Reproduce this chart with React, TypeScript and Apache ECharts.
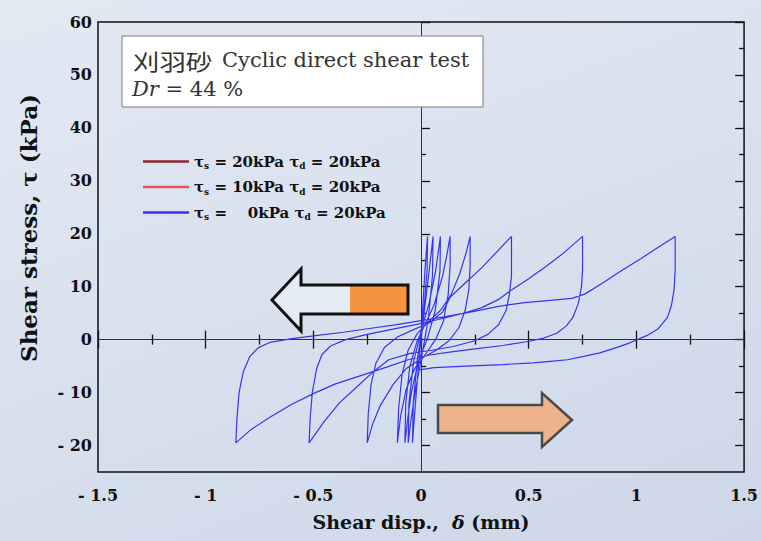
import React, { useEffect, useRef } from "react";
import * as echarts from "echarts";

// Axis ranges and tick values
const xRange = [-1.5, 1.5];
const xInterval = 0.5;
const yRange = [-25, 60];
const yMajorTicks = [-20, -10, 0, 10, 20, 30, 40, 50, 60];
const yMinorTicks = [-15, -5, 5, 15, 25, 35, 45, 55];

// Legend entries (series names and their labels)
const seriesNames = ["s20", "s10", "s0"];
const seriesColors = ["#8e2433", "#e8505b", "#3535f0"];
const legendLabels: Record<string, string> = {
  s20: "{t|τ}{s|s}{t| = 20kPa τ}{s|d}{t| = 20kPa}",
  s10: "{t|τ}{s|s}{t| = 10kPa τ}{s|d}{t| = 20kPa}",
  s0: "{t|τ}{s|s}{t| =    0kPa τ}{s|d}{t| = 20kPa}",
};

// τs = 20 kPa and τs = 10 kPa records (not plotted in this panel)
const loopS20: [number, number][] = [];
const loopS10: [number, number][] = [];

// τs = 0 kPa, τd = 20 kPa: shear displacement (mm) vs shear stress (kPa)
const loopS0: [number, number][] = [
  // first cycles, close to the origin
  [0, 0], [0.008, 6], [0.018, 13], [0.03, 19.5],
  [0.028, 13], [0.012, 5], [-0.008, -3], [-0.024, -11], [-0.04, -19.5],
  [-0.036, -12], [-0.018, -4], [0.008, 3], [0.032, 11], [0.056, 19.5],
  [0.053, 12], [0.034, 4], [0.004, -3], [-0.028, -10], [-0.046, -15], [-0.06, -19.5],
  [-0.056, -12], [-0.034, -4], [0.0, 1.5], [0.038, 7], [0.068, 13], [0.09, 19.5],
  [0.088, 13], [0.066, 5.5], [0.028, 0], [-0.012, -4], [-0.045, -10], [-0.062, -15], [-0.075, -19.5],
  [-0.071, -12], [-0.052, -5], [-0.02, -0.5], [0.02, 3], [0.06, 6.5], [0.1, 12], [0.12, 16], [0.135, 19.5],
  // unloading to -0.11 mm
  [0.135, 14], [0.126, 8.5], [0.104, 3.5], [0.07, 0.2], [0.02, -2.8], [-0.03, -5.5], [-0.07, -9.5], [-0.095, -14.5], [-0.11, -19.5],
  // reloading to 0.23 mm
  [-0.104, -13], [-0.088, -6.5], [-0.06, -2], [-0.02, 1], [0.03, 3.2], [0.09, 5.5], [0.14, 8.5], [0.18, 12.5], [0.21, 16.5], [0.228, 19.5],
  // unloading to -0.25 mm
  [0.228, 14], [0.222, 9.5], [0.205, 5.5], [0.175, 2.2], [0.13, -0.2], [0.07, -2], [0.0, -3.6], [-0.07, -5.5], [-0.13, -8.5], [-0.19, -12.5], [-0.225, -16], [-0.25, -19.5],
  // reloading to 0.42 mm
  [-0.245, -14], [-0.232, -8.5], [-0.21, -4.5], [-0.17, -1.5], [-0.11, 0.5], [-0.04, 1.8], [0.04, 3.2], [0.1, 5.2], [0.135, 8], [0.2, 10.5], [0.28, 13.5], [0.35, 16.5], [0.42, 19.5],
  // unloading to -0.52 mm
  [0.42, 12], [0.41, 8.5], [0.395, 5.5], [0.36, 2.8], [0.31, 1], [0.25, -0.2], [0.15, -1.3], [0.05, -2], [-0.05, -2.6], [-0.15, -3.8], [-0.22, -6], [-0.3, -9], [-0.38, -12], [-0.45, -15.5], [-0.52, -19.5],
  // reloading to 0.75 mm
  [-0.515, -15], [-0.505, -10], [-0.485, -5.5], [-0.46, -2.8], [-0.42, -1.2], [-0.35, 0], [-0.25, 1], [-0.13, 2], [-0.02, 2.9], [0.08, 3.8], [0.18, 4.8], [0.28, 6], [0.36, 7.6], [0.42, 9.4], [0.5, 11.5], [0.58, 13.8], [0.66, 16.3], [0.75, 19.5],
  // unloading to -0.86 mm
  [0.75, 13.2], [0.745, 10], [0.73, 6.8], [0.705, 4.2], [0.675, 2.6], [0.63, 1.2], [0.57, 0.3], [0.49, -0.4], [0.38, -1.1], [0.26, -1.7], [0.14, -2.3], [0.04, -2.9], [-0.06, -3.8], [-0.16, -5.2], [-0.28, -6.8], [-0.4, -8.4], [-0.5, -10.2], [-0.6, -12.2], [-0.7, -14.6], [-0.79, -17], [-0.86, -19.5],
  // reloading to 1.18 mm
  [-0.855, -15], [-0.845, -10], [-0.825, -6], [-0.795, -3.2], [-0.755, -1.5], [-0.7, -0.5], [-0.6, 0.2], [-0.48, 0.8], [-0.36, 1.4], [-0.24, 2.1], [-0.12, 2.8], [0, 3.6], [0.12, 4.4], [0.24, 5.3], [0.36, 6.3], [0.48, 7], [0.6, 7.4], [0.7, 7.8], [0.76, 8.6], [0.84, 10.6], [0.93, 13], [1.02, 15.3], [1.1, 17.4], [1.18, 19.5],
  // final unloading
  [1.18, 13.2], [1.175, 9.5], [1.163, 6.5], [1.144, 4.2], [1.1, 2], [1.05, 0.8], [0.97, -0.6], [0.9, -1.6], [0.83, -2.5], [0.75, -3.2], [0.68, -3.8], [0.6, -4.1], [0.52, -4.4], [0.38, -4.7], [0.21, -5], [0.06, -5.3], [-0.02, -5.8],
];

const SERIF = '"DejaVu Serif", "Liberation Serif", serif';
const INK = "#111";

const signed = (v: number) => (v < 0 ? "- " + Math.abs(v) : String(v));

const tickStyle = { color: INK, width: 1.3 };

const xAxisBase = (position: "bottom" | "top", labels: boolean) => ({
  type: "value",
  min: xRange[0],
  max: xRange[1],
  interval: xInterval,
  position,
  axisLine: { show: false },
  splitLine: { show: false },
  axisTick: { show: true, inside: true, length: 9, lineStyle: tickStyle },
  minorTick: { show: true, splitNumber: 2, length: 5, lineStyle: tickStyle },
  axisLabel: labels
    ? {
        show: true,
        formatter: signed,
        fontFamily: SERIF,
        fontWeight: "bold",
        fontSize: 16,
        color: INK,
        margin: 15,
      }
    : { show: false },
});

const yAxisBase = (position: "left" | "right", ticks: number[], len: number, labels: boolean) => ({
  type: "value",
  min: yRange[0],
  max: yRange[1],
  position,
  axisLine: { show: false },
  splitLine: { show: false },
  axisTick: { show: true, inside: true, length: len, lineStyle: tickStyle, customValues: ticks },
  axisLabel: labels
    ? {
        show: true,
        customValues: ticks,
        formatter: signed,
        fontFamily: SERIF,
        fontWeight: "bold",
        fontSize: 16,
        color: INK,
        margin: 6,
      }
    : { show: false },
});

export default function App() {
  const ref = useRef<HTMLDivElement>(null);

  useEffect(() => {
    if (!ref.current) return;
    const chart = echarts.init(ref.current, null, { renderer: "svg" });
    const loops = [loopS20, loopS10, loopS0];

    chart.setOption({
      animation: false,
      grid: {
        left: 98,
        right: 16,
        top: 22,
        bottom: 69,
        show: true,
        borderColor: INK,
        borderWidth: 1.5,
        backgroundColor: "transparent",
      },
      xAxis: [xAxisBase("bottom", true), xAxisBase("top", false)],
      yAxis: [
        yAxisBase("left", yMajorTicks, 9, true),
        yAxisBase("left", yMinorTicks, 5, false),
        yAxisBase("right", yMajorTicks, 9, false),
        yAxisBase("right", yMinorTicks, 5, false),
      ],
      legend: {
        orient: "vertical",
        left: 138,
        top: 149,
        icon: "rect",
        itemWidth: 46,
        itemHeight: 2.5,
        itemGap: 9,
        data: seriesNames,
        formatter: (name: string) => legendLabels[name],
        textStyle: {
          rich: {
            t: { fontFamily: SERIF, fontWeight: "bold", fontSize: 15, color: INK, lineHeight: 18 },
            s: {
              fontFamily: SERIF,
              fontWeight: "bold",
              fontSize: 9,
              color: INK,
              lineHeight: 8,
              verticalAlign: "bottom",
            },
          },
        },
      },
      series: seriesNames.map((name, i) => ({
        name,
        type: "line",
        data: loops[i],
        showSymbol: false,
        color: seriesColors[i],
        lineStyle: { color: seriesColors[i], width: 1.2 },
        z: 3,
        ...(i === 2
          ? {
              markLine: {
                silent: true,
                symbol: "none",
                label: { show: false },
                lineStyle: { color: "#333", width: 1, type: "solid" },
                data: [{ xAxis: 0 }, { yAxis: 0 }],
                z: 2,
              },
            }
          : {}),
      })),
      graphic: [
        // title box
        {
          type: "rect",
          z: 100,
          shape: { x: 122, y: 36, width: 361, height: 71 },
          style: { fill: "#ffffff", stroke: "#7a7a7a", lineWidth: 1 },
        },
        {
          type: "text",
          z: 101,
          x: 133,
          y: 60,
          scaleX: 1.2,
          style: {
            text: "刈羽砂",
            font: '22px "Noto Sans CJK JP"',
            fill: "#333",
            verticalAlign: "middle",
            textVerticalAlign: "middle",
          },
        },
        {
          type: "text",
          z: 101,
          x: 222,
          y: 60,
          style: {
            text: "Cyclic direct shear test",
            font: '21px "DejaVu Serif"',
            fill: "#333",
            verticalAlign: "middle",
            textVerticalAlign: "middle",
          },
        },
        {
          type: "text",
          z: 101,
          x: 132,
          y: 89,
          style: {
            text: "{i|Dr}{n| = 44 %}",
            verticalAlign: "middle",
            textVerticalAlign: "middle",
            rich: {
              i: { fontFamily: SERIF, fontStyle: "italic", fontSize: 21, fill: "#333", color: "#333" },
              n: { fontFamily: SERIF, fontSize: 21, fill: "#333", color: "#333" },
            },
          },
        },
        // leftward arrow, orange tail
        {
          type: "polygon",
          z: 49,
          shape: {
            points: [
              [272, 300], [301, 269], [301, 285], [408, 285],
              [408, 314], [301, 314], [301, 331],
            ],
          },
          style: { fill: "#e6ecf5" },
        },
        {
          type: "rect",
          z: 50,
          shape: { x: 350, y: 285, width: 58, height: 29 },
          style: { fill: "#f5933f" },
        },
        {
          type: "polygon",
          z: 51,
          shape: {
            points: [
              [272, 300], [301, 269], [301, 285], [408, 285],
              [408, 314], [301, 314], [301, 331],
            ],
          },
          style: { fill: "rgba(0,0,0,0)", stroke: "#111", lineWidth: 3, lineJoin: "miter" },
        },
        // rightward arrow
        {
          type: "polygon",
          z: 51,
          shape: {
            points: [
              [438, 405], [542, 405], [542, 393], [572, 420],
              [542, 447], [542, 433], [438, 433],
            ],
          },
          style: { fill: "#ebb28c", stroke: "#4a4a4a", lineWidth: 2.5, lineJoin: "miter" },
        },
        // axis titles
        {
          type: "text",
          z: 10,
          x: 28,
          y: 228,
          rotation: Math.PI / 2,
          style: {
            text: "{a|Shear stress, }{g|τ}{a| (kPa)}",
            align: "center",
            textAlign: "center",
            verticalAlign: "middle",
            textVerticalAlign: "middle",
            rich: {
              a: { fontFamily: SERIF, fontWeight: "bold", fontSize: 23, fill: INK, color: INK },
              g: { fontFamily: SERIF, fontWeight: "bold", fontSize: 23, fill: INK, color: INK },
            },
          },
        },
        {
          type: "text",
          z: 10,
          x: 421,
          y: 522,
          style: {
            text: "{a|Shear disp.,  }{i|δ}{a| (mm)}",
            align: "center",
            textAlign: "center",
            verticalAlign: "middle",
            textVerticalAlign: "middle",
            rich: {
              a: { fontFamily: SERIF, fontWeight: "bold", fontSize: 19, fill: INK, color: INK },
              i: { fontFamily: SERIF, fontWeight: "bold", fontStyle: "italic", fontSize: 19, fill: INK, color: INK },
            },
          },
        },
      ],
    });

    return () => chart.dispose();
  }, []);

  return (
    <div
      ref={ref}
      style={{
        position: "absolute",
        left: 0,
        top: 0,
        width: 761,
        height: 541,
        background: "linear-gradient(160deg, #e3e9f3 0%, #d8e0ee 55%, #cdd7e9 100%)",
      }}
    />
  );
}
